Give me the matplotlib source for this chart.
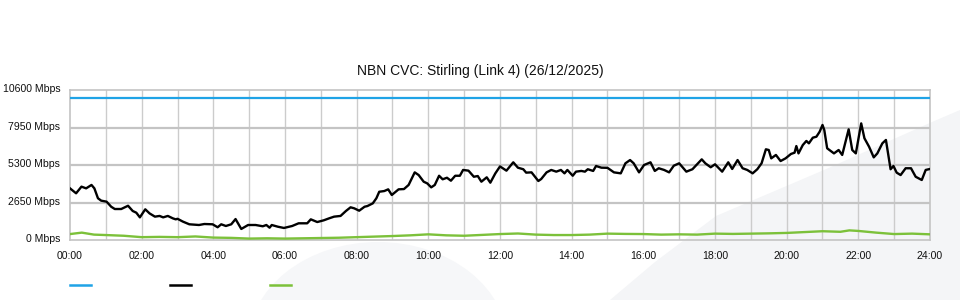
import matplotlib.pyplot as plt
import matplotlib.transforms as mtransforms
from matplotlib.lines import Line2D
from matplotlib.patches import Polygon, Ellipse

plt.rcParams['font.family'] = ['Liberation Sans', 'DejaVu Sans']

# capacity of the link (Mbps)
capacity = 10000

# traffic in (black): hour of day, Mbps
in_hours = [0.00, 0.17, 0.32, 0.45, 0.60, 0.68, 0.78, 0.87, 1.02, 1.15, 1.25, 1.43, 1.62, 1.75,
            1.85, 1.95, 2.10, 2.22, 2.37, 2.50, 2.60, 2.73, 2.87, 2.95, 3.00, 3.15, 3.33, 3.60,
            3.75, 3.98, 4.12, 4.22, 4.35, 4.50, 4.62, 4.78, 4.97, 5.18, 5.38, 5.48, 5.57, 5.63,
            5.80, 5.97, 6.20, 6.38, 6.62, 6.72, 6.90, 7.08, 7.23, 7.37, 7.55, 7.70, 7.83, 7.93,
            8.07, 8.22, 8.30, 8.45, 8.55, 8.63, 8.77, 8.88, 8.98, 9.17, 9.32, 9.45, 9.62, 9.73,
            9.87, 9.97, 10.08, 10.18, 10.30, 10.40, 10.52, 10.63, 10.75, 10.88, 10.97, 11.12,
            11.27, 11.38, 11.48, 11.63, 11.73, 11.87, 12.00, 12.18, 12.37, 12.50, 12.65, 12.73,
            12.88, 13.07, 13.15, 13.30, 13.43, 13.57, 13.70, 13.80, 13.88, 14.03, 14.12, 14.27,
            14.37, 14.45, 14.60, 14.68, 14.83, 15.00, 15.18, 15.37, 15.50, 15.63, 15.73, 15.88,
            16.02, 16.20, 16.32, 16.43, 16.58, 16.72, 16.85, 17.00, 17.08, 17.20, 17.37, 17.48,
            17.63, 17.73, 17.88, 18.00, 18.20, 18.37, 18.48, 18.63, 18.77, 18.90, 19.05, 19.18,
            19.30, 19.42, 19.50, 19.57, 19.70, 19.83, 19.97, 20.12, 20.22, 20.27, 20.33, 20.45,
            20.55, 20.62, 20.73, 20.83, 20.92, 21.00, 21.05, 21.13, 21.32, 21.45, 21.55, 21.73,
            21.83, 21.93, 22.08, 22.17, 22.30, 22.43, 22.53, 22.67, 22.77, 22.90, 22.98, 23.07,
            23.18, 23.32, 23.47, 23.60, 23.77, 23.88, 24.00]
in_mbps = [3650, 3300, 3770, 3650, 3890, 3650, 2950, 2780, 2710, 2350, 2190, 2190, 2420, 2050,
           1930, 1600, 2170, 1880, 1650, 1700, 1600, 1700, 1530, 1460, 1500, 1300, 1110, 1060,
           1130, 1110, 900, 1110, 990, 1110, 1480, 780, 1060, 1060, 970, 1060, 870, 1060,
           940, 850, 990, 1180, 1180, 1460, 1270, 1390, 1530, 1650, 1700, 2050, 2310, 2240,
           2070, 2350, 2400, 2590, 2950, 3410, 3460, 3580, 3180, 3580, 3600, 3890, 4780, 4590,
           4120, 4000, 3720, 3890, 4540, 4290, 4400, 4190, 4540, 4540, 4950, 4900,
           4470, 4520, 4120, 4430, 4050, 4710, 5200, 4900, 5490, 5110, 5000, 4760,
           4780, 4170, 4310, 4780, 4950, 4830, 4950, 4710, 4950, 4540, 4830, 4880,
           4830, 5000, 4880, 5230, 5110, 5100, 4780, 4710, 5420, 5650, 5420, 4780,
           5300, 5490, 4880, 5070, 4950, 4780, 5250, 5420, 5180, 4830, 5000, 5300,
           5700, 5420, 5140, 5350, 4830, 5490, 5020, 5650, 5070, 4950, 4710, 5000,
           5420, 6410, 6360, 5770, 6010, 5580, 5770, 6080, 6170, 6640, 6120, 6710,
           7000, 6830, 7230, 7300, 7650, 8130, 7770, 6480, 6120, 6360, 6010, 7820,
           6360, 6120, 8240, 7190, 6590, 5840, 6120, 6830, 7070, 5000, 5230, 4760,
           4590, 5070, 5070, 4470, 4240, 4950, 5020]

# traffic out (green)
out_hours = [0.0, 0.33, 0.67, 1.0, 1.5, 2.0, 2.5, 3.0, 3.5, 4.0, 4.5, 5.0, 5.5, 6.0, 6.5, 7.0,
             7.5, 8.0, 8.5, 9.0, 9.5, 10.0, 10.5, 11.0, 11.5, 12.0, 12.5, 13.0, 13.5, 14.0,
             14.5, 15.0, 15.5, 16.0, 16.5, 17.0, 17.5, 18.0, 18.5, 19.0, 19.5, 20.0, 20.5,
             21.0, 21.5, 21.75, 22.0, 22.5, 23.0, 23.5, 24.0]
out_mbps = [420, 520, 380, 350, 300, 200, 220, 200, 250, 170, 150, 100, 120, 100, 120, 140,
            160, 200, 240, 280, 330, 400, 330, 300, 360, 420, 460, 380, 350, 350,
            380, 450, 430, 420, 380, 400, 380, 450, 430, 450, 470, 500, 560,
            620, 580, 680, 640, 520, 420, 450, 400]

y_ticks = [0, 2650, 5300, 7950, 10600]
y_labels = [f"{v} Mbps" for v in y_ticks]
x_ticks = list(range(0, 25, 2))
x_labels = [f"{h:02d}:00" for h in x_ticks]
title = "NBN CVC: Stirling (Link 4) (26/12/2025)"

W, H = 960, 300
fig = plt.figure(figsize=(W / 100, H / 100), dpi=100)

# faint background watermark shapes, in pixel coords (origin top-left)
bg = fig.add_axes([0, 0, 1, 1], zorder=-1)
bg.set_xlim(0, W)
bg.set_ylim(H, 0)
bg.axis('off')
bg.add_patch(Polygon([(610, 300), (655, 262), (716, 216), (824, 170), (932, 122),
                      (960, 110), (960, 300)], closed=True,
                     facecolor='#f4f5f7', edgecolor='none'))
bg.add_patch(Ellipse((378, 345), 260, 206, facecolor='#f6f7f9', edgecolor='none'))

ax = fig.add_axes([70 / W, 1 - 240 / H, 860 / W, 150 / H], zorder=1)
ax.set_facecolor('none')

for h in range(1, 24):
    ax.axvline(h, color='#cccccc', lw=1.0, zorder=1)
for v in y_ticks[1:-1]:
    ax.axhline(v, color='#c4c4c4', lw=1.6, zorder=1)

ax.plot([0, 24], [capacity, capacity], color='#1fa3e6', lw=1.6, zorder=3)
ax.plot(out_hours, out_mbps, color='#7cc13a', lw=1.7, zorder=3)
ax.plot(in_hours, in_mbps, color='#000000', lw=1.7, zorder=4)

ax.set_xlim(0, 24)
ax.set_ylim(0, 10600)
ax.set_xticks(x_ticks)
ax.set_xticklabels(x_labels)
ax.set_yticks(y_ticks)
ax.set_yticklabels(y_labels)
ax.tick_params(axis='both', length=0, labelsize=7.6, colors='#111111')
ax.tick_params(axis='x', pad=8)
ax.tick_params(axis='y', pad=7)
# y labels sit a couple of pixels above their grid line
lift = mtransforms.ScaledTranslation(0, 2 / 100, fig.dpi_scale_trans)
for lbl in ax.get_yticklabels():
    lbl.set_transform(lbl.get_transform() + lift)
for s in ax.spines.values():
    s.set_color('#c4c4c4')
    s.set_linewidth(1.2)

fig.text(480 / W, 1 - 71 / H, title, ha='center', va='center', fontsize=10, color='#111111')

# legend swatches (no labels shown)
for x0, c in [(70, '#1fa3e6'), (170, '#000000'), (270, '#7cc13a')]:
    fig.lines.append(Line2D([x0 / W, (x0 + 21) / W], [1 - 285 / H, 1 - 285 / H],
                            transform=fig.transFigure, color=c, lw=1.8))

fig.savefig('out.png', dpi=100)
